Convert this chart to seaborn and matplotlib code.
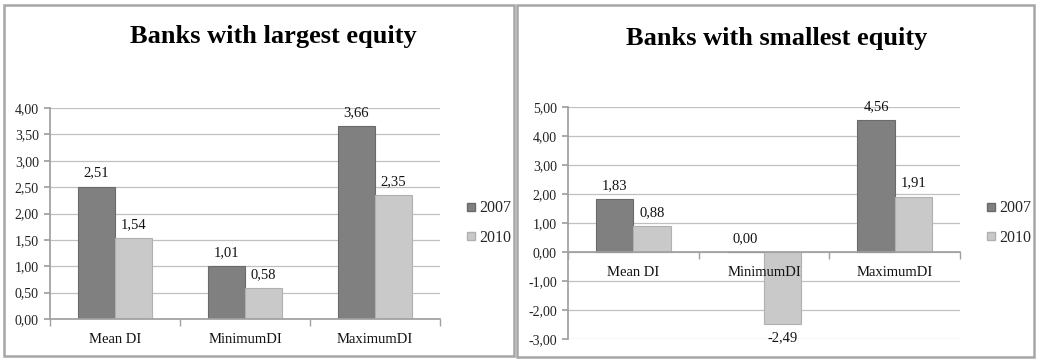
import matplotlib
matplotlib.use("Agg")
import matplotlib.pyplot as plt
import seaborn as sns
import pandas as pd
import numpy as np
from matplotlib.patches import Rectangle
from matplotlib.lines import Line2D

categories = ["Mean DI", "MinimumDI", "MaximumDI"]
years = ["2007", "2010"]
largest_2007 = [2.51, 1.01, 3.66]
largest_2010 = [1.54, 0.58, 2.35]
smallest_2007 = [1.83, 0.00, 4.56]
smallest_2010 = [0.88, -2.49, 1.91]
titles = ["Banks with largest equity", "Banks with smallest equity"]
left_ticks = [0.0, 0.5, 1.0, 1.5, 2.0, 2.5, 3.0, 3.5, 4.0]
right_ticks = [-3, -2, -1, 0, 1, 2, 3, 4, 5]

colors = {"2007": "#808080", "2010": "#c9c9c9"}
edges = {"2007": "#6a6a6a", "2010": "#b0b0b0"}

sns.set_theme(style="white")
plt.rcParams["font.family"] = ["Liberation Serif", "DejaVu Serif"]

W, H = 1044, 363
fig = plt.figure(figsize=(W / 100, H / 100), dpi=100)

def fx(x): return x / W
def fy(y): return 1 - y / H

# panel borders
for (x0, y0, x1, y1) in [(4, 5, 514, 356), (517, 5, 1034, 357)]:
    fig.patches.append(Rectangle((fx(x0), fy(y1)), fx(x1 - x0), (y1 - y0) / H,
                                 transform=fig.transFigure, fill=False,
                                 edgecolor="#a6a6a6", linewidth=1.8))

def fmt(v):
    return f"{v:.2f}".replace(".", ",")

def draw(ax, v07, v10, ticks, title, tx, ty, legx):
    df = pd.DataFrame({
        "cat": categories * 2,
        "year": [years[0]] * 3 + [years[1]] * 3,
        "val": list(v07) + list(v10),
    })
    sns.barplot(data=df, x="cat", y="val", hue="year", order=categories,
                hue_order=years, palette=colors, width=0.57, gap=0,
                ax=ax, legend=False, saturation=1)
    for cont, yr in zip(ax.containers, years):
        for p in cont:
            p.set_edgecolor(edges[yr])
            p.set_linewidth(0.8)
            p.set_zorder(1.5)
        ax.bar_label(cont, labels=[fmt(b.get_height()) for b in cont],
                     padding=5, fontsize=10.5, color="#111111")
    ax.set_ylim(ticks[0], ticks[-1])
    ax.set_xlim(-0.5, 2.5)
    ax.set_yticks(ticks)
    ax.set_yticklabels([fmt(t) for t in ticks], fontsize=10, color="#222222")
    for t in ticks:
        ax.axhline(t, color="#c0c0c0", linewidth=0.9, zorder=0.5)
    ax.set_axisbelow(False)
    ax.set_xlabel("")
    ax.set_ylabel("")
    for s in ["top", "right"]:
        ax.spines[s].set_visible(False)
    ax.spines["left"].set_color("#a0a0a0")
    ax.spines["bottom"].set_color("#a0a0a0")
    ax.spines["bottom"].set_position(("data", 0))
    ax.set_xticks([0, 1, 2])
    ax.set_xticklabels(categories, fontsize=10.5, color="#111111")
    ax.tick_params(axis="x", length=0, pad=10)
    ax.tick_params(axis="y", length=4, color="#a0a0a0", direction="out", left=True, pad=4)
    ax.set_xticks([-0.5, 0.5, 1.5, 2.5], minor=True)
    ax.tick_params(axis="x", which="minor", length=5, color="#a0a0a0", direction="out", bottom=True)
    fig.text(fx(tx), fy(ty), title, ha="center", va="center", fontsize=19,
             fontweight="bold", color="#000000")
    handles = [Line2D([], [], marker="s", linestyle="", markersize=6,
                      markerfacecolor=colors[y], markeredgecolor=edges[y]) for y in years]
    fig.legend(handles, years, loc="center left",
               bbox_to_anchor=(fx(legx), fy(223)), frameon=False, fontsize=11.5,
               handlelength=0.6, handletextpad=0.2, labelspacing=0.85, borderpad=0)

axL = fig.add_axes([fx(50), fy(319), fx(390), 211 / H])
draw(axL, largest_2007, largest_2010, left_ticks, titles[0], 273, 37, 458)

axR = fig.add_axes([fx(568), fy(339), fx(392), 232 / H])
draw(axR, smallest_2007, smallest_2010, right_ticks, titles[1], 777, 38, 978)

fig.savefig("out.png", dpi=100)
